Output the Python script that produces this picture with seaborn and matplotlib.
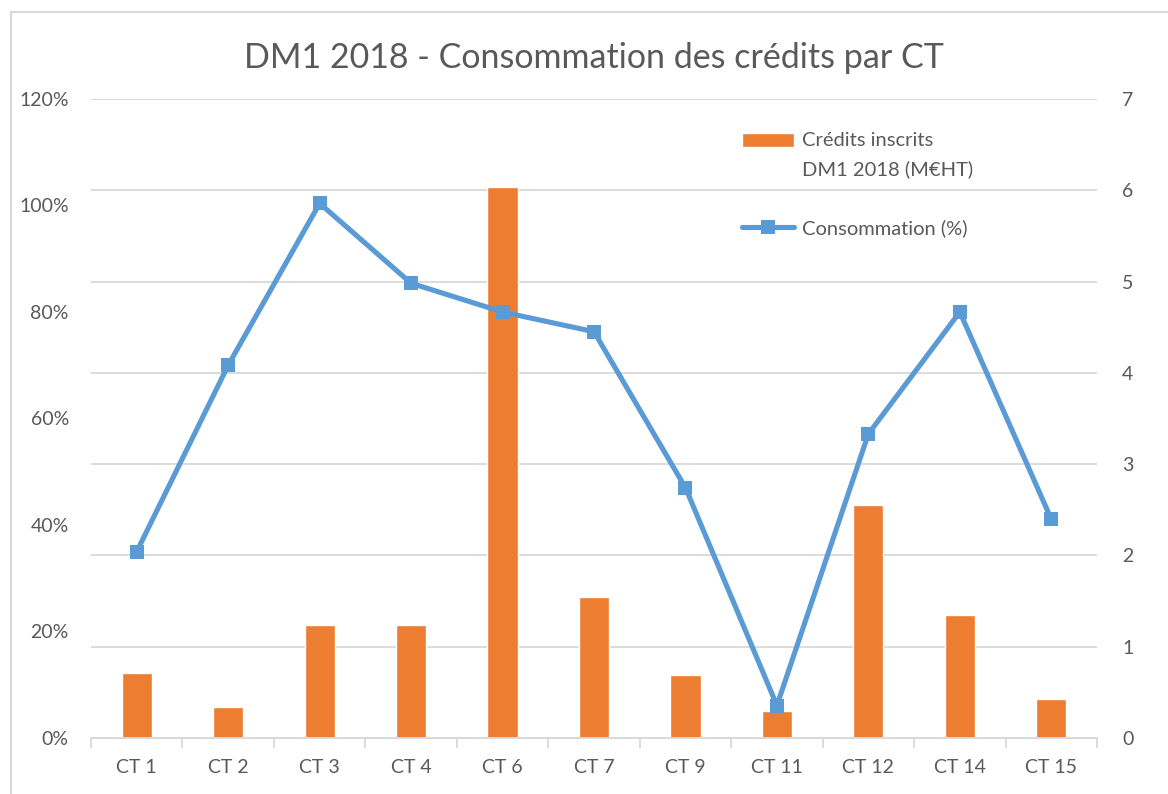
import pandas as pd
import numpy as np
import matplotlib.pyplot as plt
import seaborn as sns
from matplotlib.patches import Rectangle
from matplotlib.ticker import PercentFormatter

categories = ["CT 1", "CT 2", "CT 3", "CT 4", "CT 6", "CT 7", "CT 9", "CT 11", "CT 12", "CT 14", "CT 15"]
credits = [0.71, 0.34, 1.24, 1.24, 6.04, 1.54, 0.69, 0.30, 2.55, 1.35, 0.43]
conso = [0.35, 0.70, 1.004, 0.854, 0.80, 0.763, 0.47, 0.061, 0.571, 0.80, 0.411]

df = pd.DataFrame({"CT": categories, "Credits": credits, "Conso": conso})

bar_color = "#ED7D31"
line_color = "#5B9BD5"
text_color = "#595959"
grid_color = "#D9D9D9"

sns.set_theme(style="white")
plt.rcParams["font.family"] = ["Lato", "DejaVu Sans"]

fig = plt.figure(figsize=(11.68, 7.94), dpi=100)
ax = fig.add_axes([91 / 1168, 1 - 738 / 794, (1097 - 91) / 1168, (738 - 99) / 794])

# bars on the bottom axes, their scale shown on the right
sns.barplot(data=df, x="CT", y="Credits", color=bar_color, width=0.33,
            saturation=1, ax=ax, zorder=2, label="Crédits inscrits\nDM1 2018 (M€HT)")
if ax.get_legend() is not None:
    ax.get_legend().remove()
ax.set_ylim(0, 7)
ax.set_yticks(range(0, 8))
ax.yaxis.grid(True, color=grid_color, linewidth=1.3, zorder=0)
ax.set_axisbelow(True)

# line on the twin axes, its scale shown on the left
ax2 = ax.twinx()
sns.lineplot(data=df, x="CT", y="Conso", color=line_color, linewidth=3.7,
             marker="s", markersize=10, markeredgewidth=0, ax=ax2,
             sort=False, label="Consommation (%)")
ax2.set_ylim(0, 1.2)
ax2.set_yticks(np.arange(0, 1.21, 0.2))
ax2.yaxis.set_major_formatter(PercentFormatter(1.0, decimals=0))
ax2.get_legend().remove()

ax.yaxis.tick_right()
ax.yaxis.set_label_position("right")
ax2.yaxis.tick_left()
ax2.yaxis.set_label_position("left")

ax.set_xlim(-0.5, len(categories) - 0.5)
for a in (ax, ax2):
    a.set_xlabel("")
    a.set_ylabel("")
    for s in ("top", "left", "right"):
        a.spines[s].set_visible(False)
    a.spines["bottom"].set_color(grid_color)
    a.spines["bottom"].set_linewidth(1.3)

ax.set_xticks(range(len(categories)))
ax.set_xticklabels(categories)
ax.set_xticks(np.arange(-0.5, len(categories)), minor=True)
ax.tick_params(axis="x", which="major", length=0, pad=15, labelsize=14, labelcolor=text_color)
ax.tick_params(axis="x", which="minor", length=7, width=1.3, color=grid_color, bottom=True)
ax.tick_params(axis="y", length=0, pad=18, labelsize=14, labelcolor=text_color)
ax2.tick_params(axis="y", length=0, pad=16, labelsize=14, labelcolor=text_color)
ax2.tick_params(axis="x", bottom=False, labelbottom=False)

fig.suptitle("DM1 2018 - Consommation des crédits par CT", x=594 / 1168, y=1 - 58 / 794,
             va="center", fontsize=24.5, color=text_color)

h1, l1 = ax.get_legend_handles_labels()
h2, l2 = ax2.get_legend_handles_labels()
leg = ax2.legend(h1 + h2, l1 + l2, loc="upper left",
                 bbox_to_anchor=(724 / 1168, 1 - 114 / 794), bbox_transform=fig.transFigure,
                 frameon=False, fontsize=14.5, handlelength=2.6, handleheight=0.7,
                 handletextpad=0.35, labelspacing=2.05, labelcolor=text_color)
for t in leg.get_texts():
    t.set_linespacing(1.75)
# Excel lines the bar swatch up with the first text line
bar_handle = leg.legend_handles[0]
bar_handle.set_y(bar_handle.get_y() + 11)

fig.patches.append(Rectangle((11 / 1168, -0.1), 1.2, 1 - 12 / 794 + 0.1,
                             transform=fig.transFigure, fill=False,
                             edgecolor=grid_color, linewidth=1.5))

fig.savefig("out.png", dpi=100, facecolor="white")
